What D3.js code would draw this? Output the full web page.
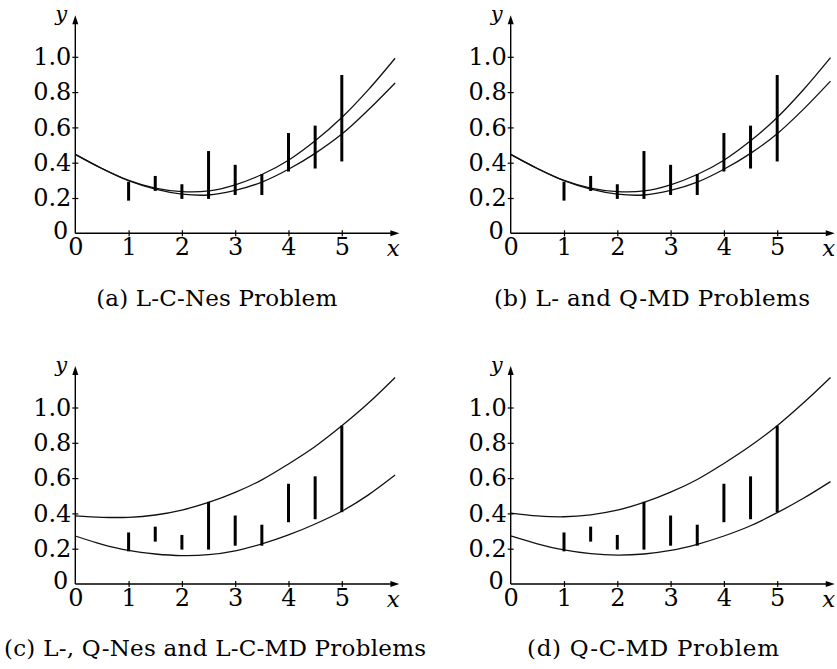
<!DOCTYPE html>
<html>
<head>
<meta charset="utf-8">
<script src="https://cdn.jsdelivr.net/npm/d3@7"></script>
<style>
  html, body { margin: 0; padding: 0; background: #fff; }
  svg { display: block; }
</style>
</head>
<body>
<svg id="chart" width="837" height="669"></svg>
<script>
// ---------------- data ----------------
const curveX = [0, 0.5, 1, 1.5, 2, 2.5, 3, 3.5, 4, 4.5, 5, 5.5, 6];

// panel (a) L-C-Nes and (b) L- and Q-MD : two close curves
const upperA = [0.447, 0.367, 0.300, 0.256, 0.236, 0.240, 0.275, 0.333, 0.414, 0.524, 0.656, 0.814, 0.992];
const lowerA = [0.447, 0.367, 0.298, 0.250, 0.222, 0.217, 0.243, 0.290, 0.363, 0.453, 0.562, 0.700, 0.852];
const upperB = [0.447, 0.367, 0.300, 0.256, 0.236, 0.240, 0.275, 0.333, 0.414, 0.524, 0.656, 0.816, 0.995];
const lowerB = [0.447, 0.367, 0.298, 0.250, 0.222, 0.217, 0.243, 0.290, 0.363, 0.453, 0.564, 0.705, 0.862];

// panel (c) L-, Q-Nes and L-C-MD
const upperC = [0.386, 0.378, 0.378, 0.391, 0.419, 0.462, 0.519, 0.590, 0.680, 0.779, 0.896, 1.025, 1.170];
const lowerC = [0.272, 0.225, 0.190, 0.170, 0.161, 0.166, 0.188, 0.227, 0.278, 0.340, 0.412, 0.505, 0.617];

// panel (d) Q-C-MD
const upperD = [0.402, 0.386, 0.381, 0.392, 0.418, 0.462, 0.520, 0.592, 0.683, 0.783, 0.897, 1.028, 1.170];
const lowerD = [0.272, 0.228, 0.193, 0.172, 0.164, 0.170, 0.190, 0.225, 0.272, 0.330, 0.404, 0.487, 0.580];

// interval data
const intervalX    = [1, 1.5, 2, 2.5, 3, 3.5, 4, 4.5, 5];
const intervalLow  = [0.185, 0.240, 0.195, 0.195, 0.217, 0.217, 0.350, 0.367, 0.407];
const intervalHigh = [0.292, 0.325, 0.278, 0.466, 0.388, 0.336, 0.568, 0.610, 0.897];

// ticks
const xTickValues = [0, 1, 2, 3, 4, 5];
const xTickLabels = ["0", "1", "2", "3", "4", "5"];
const yTickValues = [0, 0.2, 0.4, 0.6, 0.8, 1.0];
const yTickLabels = ["0", "0.2", "0.4", "0.6", "0.8", "1.0"];

const captions = [
  "(a) L-C-Nes Problem",
  "(b) L- and Q-MD Problems",
  "(c) L-, Q-Nes and L-C-MD Problems",
  "(d) Q-C-MD Problem"
];

// ---------------- layout ----------------
const FONT = "'DejaVu Serif', 'Liberation Serif', serif";
const panels = [
  { x0: 75.3,  y0: 233.3, upper: upperA, lower: lowerA, cap: captions[0], capX: 216.7, capY: 306, capW: 241 },
  { x0: 510.7, y0: 233.3, upper: upperB, lower: lowerB, cap: captions[1], capX: 652,   capY: 306, capW: 316 },
  { x0: 75.3,  y0: 584,   upper: upperC, lower: lowerC, cap: captions[2], capX: 215,   capY: 656, capW: 422 },
  { x0: 510.7, y0: 584,   upper: upperD, lower: lowerD, cap: captions[3], capX: 653,   capY: 656, capW: 252 }
];
const unitX = 53.3, unitY = 176.5;
const xMaxAxis = 5.93, yMaxAxis = 1.19;

const svg = d3.select("#chart");

panels.forEach(p => {
  const x = d3.scaleLinear().domain([0, 5]).range([p.x0, p.x0 + 5 * unitX]);
  const y = d3.scaleLinear().domain([0, 1]).range([p.y0, p.y0 - unitY]);
  const g = svg.append("g");

  // curves
  const line = d3.line()
    .x((d, i) => x(curveX[i]))
    .y(d => y(d))
    .curve(d3.curveCatmullRom);
  [p.upper, p.lower].forEach(series => {
    g.append("path")
      .attr("d", line(series))
      .attr("fill", "none")
      .attr("stroke", "#111")
      .attr("stroke-width", 1.3);
  });

  // intervals
  g.selectAll("line.iv")
    .data(intervalX)
    .join("line")
    .attr("class", "iv")
    .attr("x1", d => x(d)).attr("x2", d => x(d))
    .attr("y1", (d, i) => y(intervalLow[i]))
    .attr("y2", (d, i) => y(intervalHigh[i]))
    .attr("stroke", "#000")
    .attr("stroke-width", 3);

  // x axis
  const xAxis = d3.axisBottom(x)
    .tickValues(xTickValues)
    .tickFormat((d, i) => xTickLabels[i])
    .tickSizeInner(3).tickSizeOuter(0).tickPadding(2);
  const gx = g.append("g").attr("transform", `translate(0,${p.y0})`).call(xAxis);
  gx.select(".domain").remove();
  gx.selectAll(".tick line").attr("y1", -3).attr("stroke-width", 1.2);
  gx.selectAll(".tick text")
    .attr("font-family", FONT).attr("font-size", 24).attr("fill", "#000");
  g.append("line")
    .attr("x1", x(0)).attr("x2", x(xMaxAxis))
    .attr("y1", p.y0).attr("y2", p.y0)
    .attr("stroke", "#000").attr("stroke-width", 1.4);
  const ax = x(xMaxAxis);
  g.append("path")
    .attr("d", `M${ax + 8},${p.y0} L${ax - 1},${p.y0 - 3} L${ax - 1},${p.y0 + 3} Z`)
    .attr("fill", "#000");

  // y axis
  const yAxis = d3.axisLeft(y)
    .tickValues(yTickValues)
    .tickFormat((d, i) => yTickLabels[i])
    .tickSizeInner(3).tickSizeOuter(0).tickPadding(1);
  const gy = g.append("g").attr("transform", `translate(${p.x0},0)`).call(yAxis);
  gy.select(".domain").remove();
  gy.selectAll(".tick line").attr("x1", 3).attr("stroke-width", 1.2);
  gy.selectAll(".tick text")
    .attr("font-family", FONT).attr("font-size", 24).attr("fill", "#000");
  // y "0" label sits left of the origin, slightly up; x "0" below
  gy.selectAll(".tick").filter(d => d === 0).select("line").remove();
  gx.selectAll(".tick").filter(d => d === 0).select("line").remove();
  gy.selectAll(".tick").filter(d => d === 0).select("text").attr("dy", "0.2em").attr("x", -7);

  g.append("line")
    .attr("x1", p.x0).attr("x2", p.x0)
    .attr("y1", p.y0).attr("y2", y(yMaxAxis))
    .attr("stroke", "#000").attr("stroke-width", 1.4);
  const ay = y(yMaxAxis);
  g.append("path")
    .attr("d", `M${p.x0},${ay - 8} L${p.x0 - 3},${ay + 1} L${p.x0 + 3},${ay + 1} Z`)
    .attr("fill", "#000");

  // axis names
  g.append("text")
    .attr("x", p.x0 - 14).attr("y", 21 + (p.y0 - 233.3))
    .attr("text-anchor", "middle")
    .attr("font-family", FONT).attr("font-style", "italic").attr("font-size", 21)
    .text("y");
  g.append("text")
    .attr("x", p.x0 + 318).attr("y", p.y0 + 23)
    .attr("text-anchor", "middle")
    .attr("font-family", FONT).attr("font-style", "italic").attr("font-size", 23)
    .text("x");

  // caption
  g.append("text")
    .attr("x", p.capX).attr("y", p.capY)
    .attr("text-anchor", "middle")
    .attr("font-family", FONT).attr("font-size", 23)
    .attr("textLength", p.capW).attr("lengthAdjust", "spacing")
    .text(p.cap);
});
</script>
</body>
</html>
